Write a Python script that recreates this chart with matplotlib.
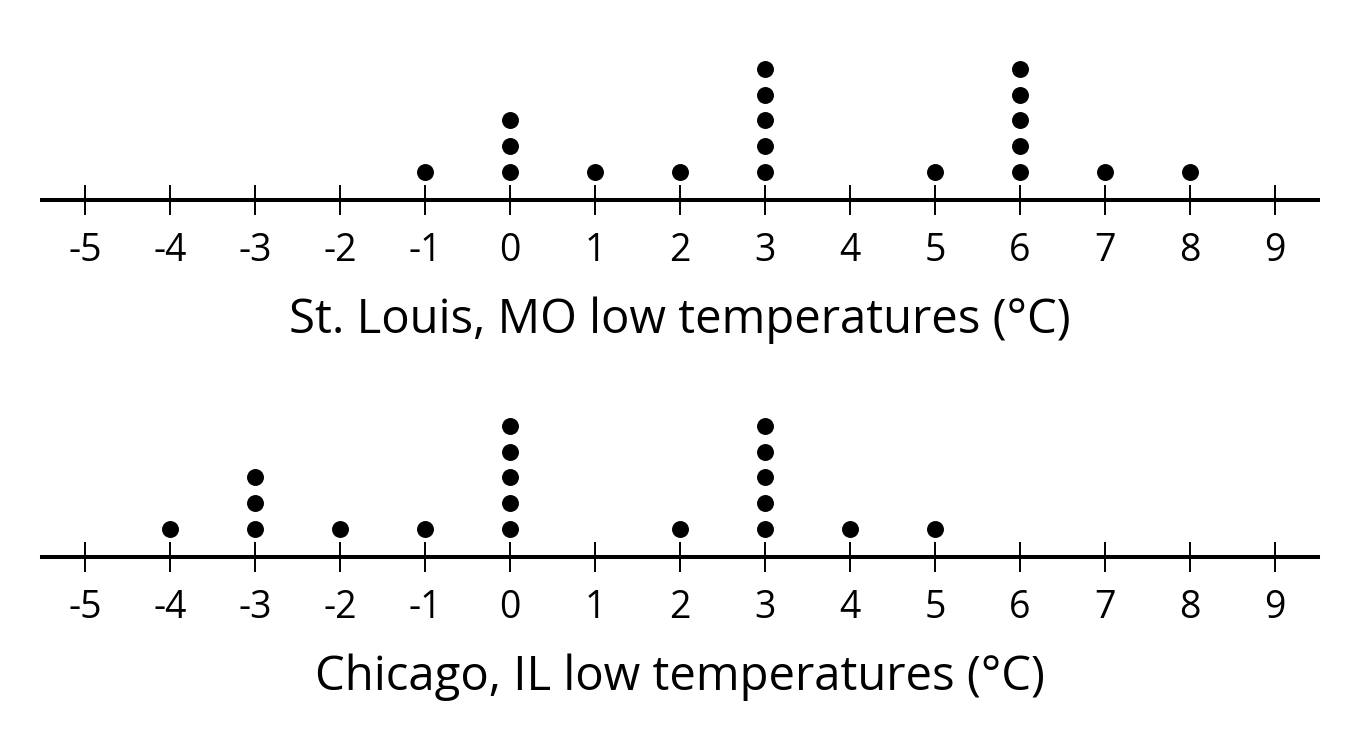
import matplotlib
matplotlib.use("Agg")
import matplotlib.pyplot as plt

plt.rcParams['font.family'] = ['Open Sans', 'DejaVu Sans']

# Data
ticks = list(range(-5, 10))
stl_values = [-1, 0, 1, 2, 3, 5, 6, 7, 8]
stl_counts = [1, 3, 1, 1, 5, 1, 5, 1, 1]
chi_values = [-4, -3, -2, -1, 0, 2, 3, 4, 5]
chi_counts = [1, 3, 1, 1, 5, 1, 5, 1, 1]
titles = ["St. Louis, MO low temperatures (°C)", "Chicago, IL low temperatures (°C)"]

W, H = 1354, 738
fig = plt.figure(figsize=(W / 100, H / 100), dpi=100)

UNIT = 25.7  # px per dot step
FIRST = 1.1  # first dot height (units) above line


def make_axes(line_px):
    left, right = 42, 1318
    bot_px = line_px + 30
    top_px = line_px - 160
    ax = fig.add_axes([left / W, (H - bot_px) / H, (right - left) / W, (bot_px - top_px) / H])
    ax.set_xlim((left - 85) / 85 - 5, (right - 85) / 85 - 5)
    ax.set_ylim(-30 / UNIT, 160 / UNIT)
    return ax


for ax_line, vals, cnts, title in [(200, stl_values, stl_counts, titles[0]),
                                    (557, chi_values, chi_counts, titles[1])]:
    ax = make_axes(ax_line)
    xs, ys = [], []
    for v, c in zip(vals, cnts):
        for k in range(c):
            xs.append(v)
            ys.append(FIRST + k)
    ax.plot(xs, ys, 'o', color='black', markersize=12.2, markeredgewidth=0)
    for s in ['top', 'right', 'left']:
        ax.spines[s].set_visible(False)
    ax.spines['bottom'].set_position(('data', 0))
    ax.spines['bottom'].set_linewidth(2.9)
    ax.set_yticks([])
    ax.set_xticks(ticks)
    ax.set_xticklabels([str(t) for t in ticks])
    ax.tick_params(axis='x', direction='inout', length=21.6, width=1.4,
                   labelsize=27, pad=12, colors='black')
    ax.set_xlabel(title, fontsize=34, labelpad=19)
    ax.patch.set_alpha(0)

fig.savefig("out.png", dpi=100)
